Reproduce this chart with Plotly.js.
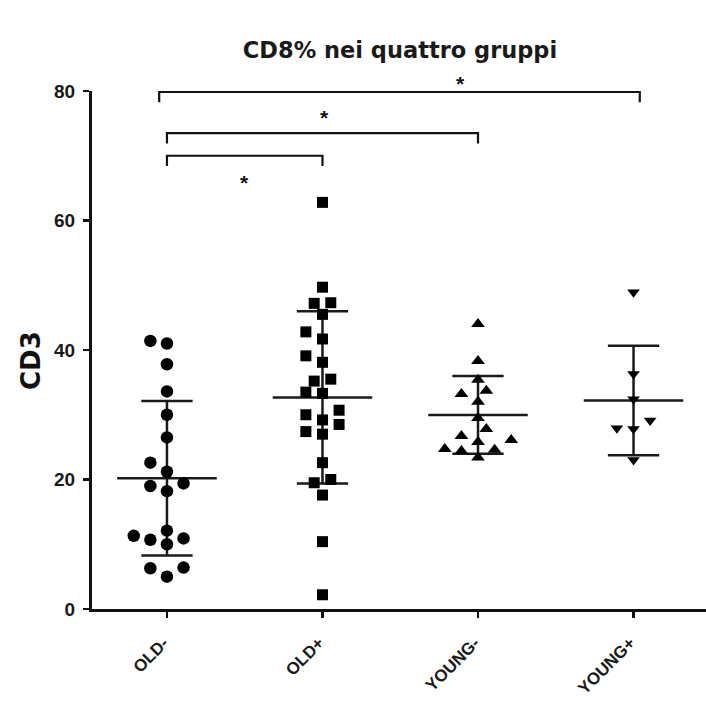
<!DOCTYPE html>
<html>
<head>
<meta charset="utf-8">
<script src="https://cdn.plot.ly/plotly-3.0.1.min.js"></script>
<style>
  html, body { margin: 0; padding: 0; background: #ffffff; }
  #chart { width: 706px; height: 708px; }
</style>
</head>
<body>
<div id="chart"></div>
<script>
// ---- data ----
const categories = ["OLD-", "OLD+", "YOUNG-", "YOUNG+"];
const oldMinus  = [41.4, 41.0, 37.8, 33.6, 30.0, 26.5, 22.6, 21.2, 19.4, 19.0, 18.2, 12.1, 11.3, 10.9, 10.7, 10.0, 6.4, 6.3, 5.0];
const oldPlus   = [62.8, 49.7, 47.3, 47.2, 45.5, 42.8, 41.7, 39.1, 38.1, 35.5, 35.2, 33.5, 33.3, 30.7, 30.0, 29.2, 28.5, 27.4, 27.0, 22.6, 20.0, 19.5, 17.6, 10.4, 2.2];
const youngMinus = [44.0, 38.3, 35.4, 33.7, 33.2, 32.0, 29.5, 27.8, 26.7, 26.1, 25.8, 24.7, 24.6, 24.4, 23.4];
const youngPlus  = [48.9, 36.3, 32.4, 29.1, 27.9, 27.8, 23.0];
const yTicks = [0, 20, 40, 60, 80];
// significance comparisons: [group a, group b], all marked "*"
const comparisons = [[0, 1], [0, 2], [0, 3]];
const comparisonLabels = ["*", "*", "*"];

// ---- layout geometry ----
const W = 706, H = 708;
const M = { l: 92, r: 0, t: 91, b: 99 };
const xRange = [-0.482, 3.466];
const yRange = [0, 80];
const plotW = W - M.l - M.r, plotH = H - M.t - M.b;
const pxPerX = plotW / (xRange[1] - xRange[0]);
const pxPerY = plotH / (yRange[1] - yRange[0]);

// deterministic beeswarm: spread overlapping markers sideways
function swarm(vals, center) {
  const STEP = 8.3, D = 13;
  const placed = [];
  const xs = new Array(vals.length);
  const order = vals.map((v, i) => i).sort((a, b) => vals[a] - vals[b]);
  for (const i of order) {
    const py = vals[i] * pxPerY;
    for (let k = 0; k < 60; k++) {
      const slot = k === 0 ? 0 : (k % 2 === 1 ? -Math.ceil(k / 2) : Math.ceil(k / 2));
      const px = slot * STEP;
      if (placed.every(p => Math.hypot(p.px - px, p.py - py) >= D)) {
        placed.push({ px, py });
        xs[i] = center + px / pxPerX;
        break;
      }
    }
  }
  return xs;
}

function meanSd(vals) {
  const n = vals.length;
  const m = vals.reduce((a, b) => a + b, 0) / n;
  const sd = Math.sqrt(vals.reduce((a, b) => a + (b - m) * (b - m), 0) / (n - 1));
  return [m, sd];
}

const groups = [
  { vals: oldMinus,   symbol: "circle",        size: 12.5 },
  { vals: oldPlus,    symbol: "square",        size: 11 },
  { vals: youngMinus, symbol: "triangle-up",   size: 12 },
  { vals: youngPlus,  symbol: "triangle-down", size: 11 }
];

const traces = [];
const MEAN_HW = 0.32, CAP_HW = 0.165;
groups.forEach((g, c) => {
  const [m, sd] = meanSd(g.vals);
  traces.push({
    type: "scatter", mode: "lines", hoverinfo: "skip", showlegend: false,
    x: [c - MEAN_HW, c + MEAN_HW, null, c - CAP_HW, c + CAP_HW, null, c - CAP_HW, c + CAP_HW, null, c, c],
    y: [m, m, null, m + sd, m + sd, null, m - sd, m - sd, null, m - sd, m + sd],
    line: { color: "#1a1a1a", width: 2.5 }
  });
  traces.push({
    type: "scatter", mode: "markers", showlegend: false,
    name: categories[c],
    x: swarm(g.vals, c), y: g.vals,
    marker: { symbol: g.symbol, size: g.size, color: "#000000", line: { width: 0 } }
  });
});

// brackets (indexed like comparisons)
const bracketTop  = [70.0, 73.5, 79.85];
const bracketLeg  = 1.6;
const bracketPad  = [[0, 0], [0, 0], [0.05, 0.04]];
const starPos = [[0.5, 65.8], [1.01, 75.85], [1.89, 81.1]];
const annotations = [];
comparisons.forEach((pair, i) => {
  const a = pair[0] - bracketPad[i][0];
  const b = pair[1] + bracketPad[i][1];
  const yTop = bracketTop[i];
  traces.push({
    type: "scatter", mode: "lines", hoverinfo: "skip", showlegend: false,
    x: [a, a, b, b], y: [yTop - bracketLeg, yTop, yTop, yTop - bracketLeg],
    line: { color: "#111111", width: 2.2 }
  });
  annotations.push({
    x: starPos[i][0], y: starPos[i][1] / yRange[1], xref: "x", yref: "paper",
    text: "<b>" + comparisonLabels[i] + "</b>", showarrow: false,
    xanchor: "center", yanchor: "middle",
    font: { family: "Liberation Sans, Arial, sans-serif", size: 21, color: "#111111" }
  });
});

annotations.push({
  xref: "paper", yref: "y", x: 0, y: 38.3, xshift: -61,
  text: "<b>CD3</b>", showarrow: false, textangle: -90,
  xanchor: "center", yanchor: "middle",
  font: { family: "DejaVu Sans, sans-serif", size: 26, color: "#111111" }
});

const layout = {
  width: W, height: H,
  margin: M,
  paper_bgcolor: "#ffffff", plot_bgcolor: "#ffffff",
  showlegend: false,
  title: {
    text: "<b>CD8% nei quattro gruppi</b>",
    xref: "container", yref: "container",
    x: 400 / W, y: 1 - 50 / H, xanchor: "center", yanchor: "middle",
    font: { family: "DejaVu Sans, sans-serif", size: 22.5, color: "#1a1a1a" }
  },
  xaxis: {
    range: xRange, tickmode: "array", tickvals: [0, 1, 2, 3],
    ticktext: categories.map(t => "<b>" + t + "</b>\u00a0"),
    tickangle: -45, ticks: "outside", ticklen: 6, tickwidth: 2.5, tickcolor: "#111111",
    showline: true, linecolor: "#111111", linewidth: 3,
    showgrid: false, zeroline: false, fixedrange: true, ticklabelstandoff: 5,
    tickfont: { family: "Liberation Sans, Arial, sans-serif", size: 17, color: "#1a1a1a" }
  },
  yaxis: {
    range: yRange, tickmode: "array", tickvals: yTicks, ticktext: yTicks.map(t => "<b>" + t + "</b>"),
    ticks: "outside", ticklen: 6, tickwidth: 2.5, tickcolor: "#111111",
    showline: true, linecolor: "#111111", linewidth: 3,
    showgrid: false, zeroline: false, fixedrange: true, ticklabelstandoff: 4,
    tickfont: { family: "Liberation Sans, Arial, sans-serif", size: 19, color: "#1a1a1a" }
  },
  annotations: annotations
};

Plotly.newPlot("chart", traces, layout, { displayModeBar: false, staticPlot: true });
</script>
</body>
</html>
